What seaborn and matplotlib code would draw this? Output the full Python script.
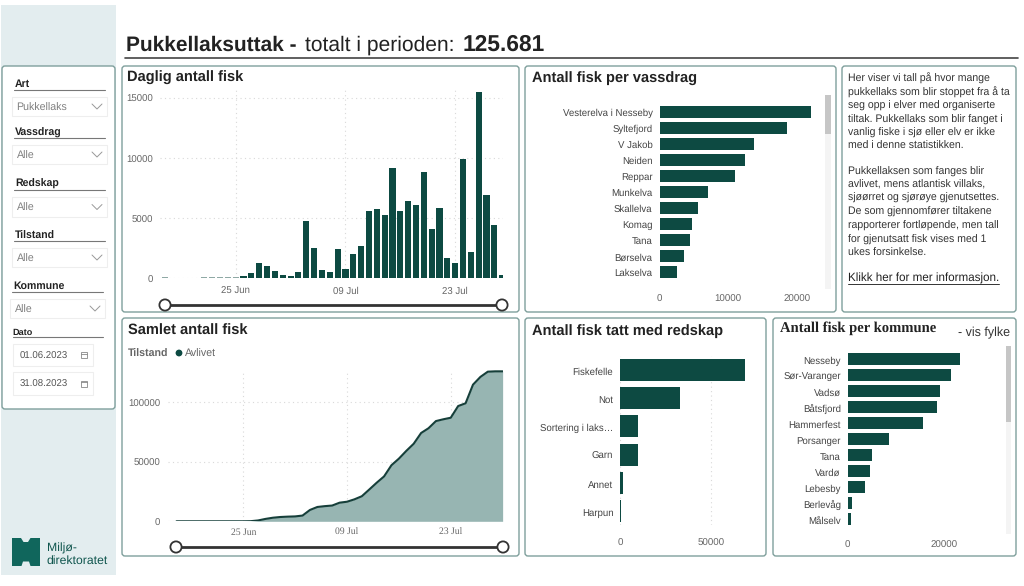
import matplotlib
matplotlib.use("Agg")
import matplotlib.pyplot as plt
import matplotlib.dates as mdates
from matplotlib.patches import FancyBboxPatch, Rectangle, Circle, Polygon
from matplotlib.transforms import ScaledTranslation
import numpy as np
import pandas as pd
import seaborn as sns

# ---------- data ----------
daily_values = [70, 0, 0, 0, 0, 70, 70, 70, 70, 70, 150, 450, 1250, 1000, 600, 300, 200, 500,
                4750, 2500, 650, 500, 2400, 800, 2050, 2650, 5600, 5750, 5250, 9200, 5600,
                6450, 6100, 8800, 4100, 5800, 1650, 1250, 9900, 2200, 15500, 6900, 4400, 300]
cum_values = [0, 0, 0, 0, 0, 0, 0, 0, 0, 0, 100, 700, 2000, 3000, 3600, 3900, 4100, 4800,
              9500, 12000, 12700, 13200, 15600, 16400, 18400, 21000, 26600, 32300, 37600,
              47000, 52500, 59000, 65000, 74000, 78000, 84000, 85500, 86800, 96600, 98900,
              114500, 121000, 125400, 125681, 125681]
date_ticks = ["2023-06-25", "2023-07-09", "2023-07-23"]
date_labels = ["25 Jun", "09 Jul", "23 Jul"]
vassdrag = ["Vesterelva i Nesseby", "Syltefjord", "V Jakob", "Neiden", "Reppar", "Munkelva",
            "Skallelva", "Komag", "Tana", "Børselva", "Lakselva"]
vassdrag_values = [22000, 18500, 13700, 12400, 11050, 7100, 5630, 4800, 4400, 3500, 2570]
redskap = ["Fiskefelle", "Not", "Sortering i laks…", "Garn", "Annet", "Harpun"]
redskap_values = [71100, 32800, 9600, 9600, 1300, 600]
kommune = ["Nesseby", "Sør-Varanger", "Vadsø", "Båtsfjord", "Hammerfest", "Porsanger", "Tana",
           "Vardø", "Lebesby", "Berlevåg", "Målselv"]
kommune_values = [23300, 21400, 19200, 18550, 15700, 8650, 5100, 4640, 3600, 970, 760]
filters = [("Art", "Pukkellaks"), ("Vassdrag", "Alle"), ("Redskap", "Alle"),
           ("Tilstand", "Alle"), ("Kommune", "Alle")]
date_filters = ["01.06.2023", "31.08.2023"]
info_text = [
    "Her viser vi tall på hvor mange", "pukkellaks som blir stoppet fra å ta",
    "seg opp i elver med organiserte", "tiltak. Pukkellaks som blir fanget i",
    "vanlig fiske i sjø eller elv er ikke", "med i denne statistikken.",
    "Pukkellaksen som fanges blir", "avlivet, mens atlantisk villaks,",
    "sjøørret og sjørøye gjenutsettes.", "De som gjennomfører tiltakene",
    "rapporterer fortløpende, men tall", "for gjenutsatt fisk vises med 1",
    "ukes forsinkelse.",
]

# ---------- style ----------
sns.set_theme(style="white")
plt.rcParams["font.family"] = ["Liberation Sans", "DejaVu Sans"]
plt.rcParams["text.hinting"] = "no_hinting"
plt.rcParams["text.hinting_factor"] = 8
W, H = 1024, 586
BAR = "#0d4a42"
FILL = "#97b5b2"
LINE = "#163f3a"
EDGE = "#7f9f9c"
TICK = "#666666"
GRID = "#d9d9d9"
VA = "center_baseline"

fig = plt.figure(figsize=(W / 100, H / 100), dpi=100, facecolor="white")

# overlay in pixel coordinates for the report frame
bg = fig.add_axes([0, 0, 1, 1], zorder=0)
bg.set_xlim(0, W)
bg.set_ylim(H, 0)
bg.axis("off")


def panel(x0, y0, x1, y1, ec=EDGE, lw=1.0, fc="white"):
    bg.add_patch(FancyBboxPatch((x0 + 2, y0 + 2), x1 - x0 - 4, y1 - y0 - 4,
                                boxstyle="round,pad=2,rounding_size=3", fc=fc, ec=ec, lw=lw))


def axpx(x0, y0, x1, y1):
    ax = fig.add_axes([x0 / W, 1 - y1 / H, (x1 - x0) / W, (y1 - y0) / H], zorder=2)
    ax.patch.set_alpha(0)
    sns.despine(ax=ax, left=True, bottom=True)
    return ax


def slider(x0, x1, y):
    bg.plot([x0, x1], [y, y], color="#333333", lw=2.0, solid_capstyle="butt", zorder=3)
    for x in (x0, x1):
        bg.add_patch(Circle((x, y), 5.6, fc="white", ec="#333333", lw=1.3, zorder=4))


def scrollbar(x0, x1, y0, y1, y_thumb):
    bg.add_patch(Rectangle((x0, y0), x1 - x0, y1 - y0, fc="#f4f4f4", ec="none", zorder=1))
    bg.add_patch(Rectangle((x0, y0), x1 - x0, y_thumb - y0, fc="#c6c6c6", ec="none", zorder=1))


def baseline_ylabels(ax):
    shift = ScaledTranslation(0, -1.0 / 100, fig.dpi_scale_trans)
    for t in ax.get_yticklabels():
        t.set_transform(t.get_transform() + shift)


# sidebar
bg.add_patch(Rectangle((1, 5), 115, 570, fc="#e3edef", ec="none"))
panel(2, 66, 115, 409, ec=EDGE, fc="white")

# header
bg.text(126, 51, "Pukkellaksuttak -", fontsize=15.0, fontweight="bold", color="#222222", va="baseline")
bg.text(305, 51, "totalt i perioden:", fontsize=15.1, color="#222222", va="baseline")
bg.text(462.5, 51, "125.681", fontsize=16.4, fontweight="bold", color="#222222", va="baseline")
bg.plot([125, 1018], [57.5, 57.5], color="#444444", lw=1.2)

# panels
for rect in [(122, 66, 519, 312), (122, 318, 519, 556), (525, 66, 836, 312),
             (842, 66, 1016, 312), (525, 318, 766, 556), (773, 318, 1016, 556)]:
    panel(*rect)

# titles
for x, y, txt in [(127, 76, "Daglig antall fisk"), (128, 329, "Samlet antall fisk"),
                  (532, 77, "Antall fisk per vassdrag"), (532, 329, "Antall fisk tatt med redskap")]:
    bg.text(x, y, txt, fontsize=10.5, fontweight="bold", color="#222222", va=VA)
bg.text(780, 327, "Antall fisk per kommune", fontsize=10.5, fontweight="bold",
        family="Liberation Serif", color="#222222", va=VA)
bg.text(958, 332, "- vis fylke", fontsize=9.0, color="#333333", va=VA)

# filter pane
label_y = [83, 132, 183, 235, 285]
line_y = [90, 138, 190, 241, 292]
box_y = [(97, 116), (145, 164), (197, 217), (248, 267), (299, 318)]
for i, ((lab, val), ly, ru, (b0, b1)) in enumerate(zip(filters, label_y, line_y, box_y)):
    dx = -2 if i == 4 else 0
    bg.text(15 + dx, ly, lab, fontsize=7.6, fontweight="bold", color="#222222", va=VA)
    bg.plot([14 + dx, 105 + dx], [ru, ru], color="#777777", lw=0.8)
    bg.add_patch(Rectangle((12 + dx, b0), 95, b1 - b0, fc="white", ec="#eeeeee", lw=0.8))
    bg.text(16.5 + dx, (b0 + b1) / 2, val, fontsize=7.7, color="#808080", va=VA)
    cy = (b0 + b1) / 2
    bg.plot([92 + dx, 97 + dx, 102 + dx], [cy - 2.5, cy + 2.5, cy - 2.5], color="#999999", lw=0.7)
bg.text(12.5, 332, "Dato", fontsize=6.6, fontweight="bold", color="#222222", va=VA)
bg.plot([12.5, 103], [337, 337], color="#777777", lw=0.8)
for val, (b0, b1) in zip(date_filters, [(344, 366), (372, 395)]):
    bg.add_patch(Rectangle((12.5, b0), 80.5, b1 - b0, fc="white", ec="#eeeeee", lw=0.8))
    cy = (b0 + b1) / 2
    bg.text(20, cy, val, fontsize=6.9, color="#555555", va=VA)
    bg.add_patch(Rectangle((81, cy - 3), 6, 6, fc="white", ec="#888888", lw=0.6))
    bg.plot([81, 87], [cy - 1.2, cy - 1.2], color="#888888", lw=0.6)

# logo
bg.add_patch(Polygon([(12, 538), (21, 538), (23.5, 542), (28, 542), (30.5, 538), (40, 538), (40, 566),
                      (30.5, 566), (29, 561.5), (23, 561.5), (21.5, 566), (12, 566)],
                     closed=True, fc="#10665c", ec="none"))
bg.text(46.5, 547, "Miljø-", fontsize=8.8, color="#10564e", va=VA)
bg.text(46.5, 559.5, "direktoratet", fontsize=8.8, color="#10564e", va=VA)

# info text
info_y = [77, 91, 105, 119, 132, 145, 171, 184, 197, 211, 225, 239, 252]
for s, y in zip(info_text, info_y):
    bg.text(847.5, y, s, fontsize=7.6, color="#333333", va=VA)
bg.text(848, 277, "Klikk her for mer informasjon.", fontsize=8.4, color="#222222", va=VA)
bg.plot([848, 999], [284, 284], color="#333333", lw=0.7)

# scrollbars and sliders
scrollbar(825, 831, 95, 289, 134)
scrollbar(1006, 1011, 346, 534, 422)
slider(165, 502, 305)
slider(176, 503, 547)


def style_ts(ax):
    ticks = mdates.date2num(pd.to_datetime(date_ticks))
    ax.set_xticks(ticks)
    ax.set_xticklabels(date_labels)
    ax.grid(True, color=GRID, ls=(0, (1, 3)), lw=0.8)
    ax.set_axisbelow(True)
    ax.set_xlabel("")
    ax.set_ylabel("")


# daily bars
base = mdates.date2num(pd.Timestamp("2023-06-25"))
ax = axpx(160, 90, 503, 278.3)
days = mdates.date2num(pd.date_range("2023-06-16", periods=len(daily_values)))
sns.barplot(x=days, y=daily_values, native_scale=True, color=BAR, saturation=1, width=0.78,
            linewidth=0, ax=ax)
for bar, v in zip(ax.patches, daily_values):
    if v < 100:
        bar.set_facecolor("#8fa9a5")
ax.set_xlim(base - 9.66, base + 34.1)
ax.set_ylim(0, 15640)
ax.set_yticks([0, 5000, 10000, 15000])
style_ts(ax)
ax.tick_params(axis="x", length=0, labelsize=6.9, labelcolor=TICK, pad=6.2)
ax.tick_params(axis="y", length=0, labelsize=6.9, labelcolor=TICK, pad=4.7)
baseline_ylabels(ax)

# cumulative area
ax = axpx(168, 370, 503, 521.3)
days = mdates.date2num(pd.date_range("2023-06-16", periods=len(cum_values)))
sns.lineplot(x=days, y=cum_values, color=LINE, lw=1.5, ax=ax, zorder=3)
ax.fill_between(days, cum_values, 0, color=FILL, lw=0, zorder=2)
ax.set_xlim(base - 10.15, base + 35.05)
ax.set_ylim(0, 126800)
ax.set_yticks([0, 50000, 100000])
style_ts(ax)
ax.tick_params(axis="x", length=0, labelsize=6.9, labelcolor=TICK, pad=5)
for t in ax.get_xticklabels():
    t.set_family("Liberation Serif")
ax.tick_params(axis="y", length=0, labelsize=6.9, labelcolor=TICK, pad=5.8)
baseline_ylabels(ax)
bg.text(128, 353, "Tilstand", fontsize=7.7, fontweight="bold", color="#666666", va=VA)
bg.add_patch(Circle((179, 353), 3.4, fc=BAR, ec="none"))
bg.text(185, 353, "Avlivet", fontsize=7.7, color="#666666", va=VA)


def hbars(ax, names, vals, xlim, ticks, width):
    sns.barplot(x=vals, y=names, order=names, color=BAR, saturation=1, width=width,
                linewidth=0, ax=ax, orient="h")
    ax.set_ylim(len(names) - 0.5, -0.5)
    ax.set_xlim(*xlim)
    ax.set_xticks(ticks)
    ax.set_xlabel("")
    ax.set_ylabel("")
    ax.tick_params(axis="y", length=0, labelsize=6.9, labelcolor="#444444", pad=5)
    ax.tick_params(axis="x", length=0, labelsize=7.0, labelcolor=TICK)
    baseline_ylabels(ax)


# vassdrag bars
ax = axpx(659.5, 103.7, 815, 279.7)
hbars(ax, vassdrag, vassdrag_values, (0, 155.5 / 6.87 * 1000), [0, 10000, 20000], 0.75)
ax.tick_params(axis="x", pad=10.5)

# redskap bars
ax = axpx(620.3, 355.7, 745, 525.3)
hbars(ax, redskap, redskap_values, (0, 124.7 / 90.4 * 50000), [0, 50000], 0.78)
ax.grid(True, axis="x", color=GRID, ls=(0, (1, 3)), lw=0.8)
ax.set_axisbelow(True)
ax.tick_params(axis="x", pad=9.5)

# kommune bars
ax = axpx(847.7, 351, 1002, 527)
hbars(ax, kommune, kommune_values, (0, 154.3 / 96.3 * 20000), [0, 20000], 0.75)
ax.tick_params(axis="x", pad=9.5)

fig.savefig("out.png", dpi=100, facecolor="white")
